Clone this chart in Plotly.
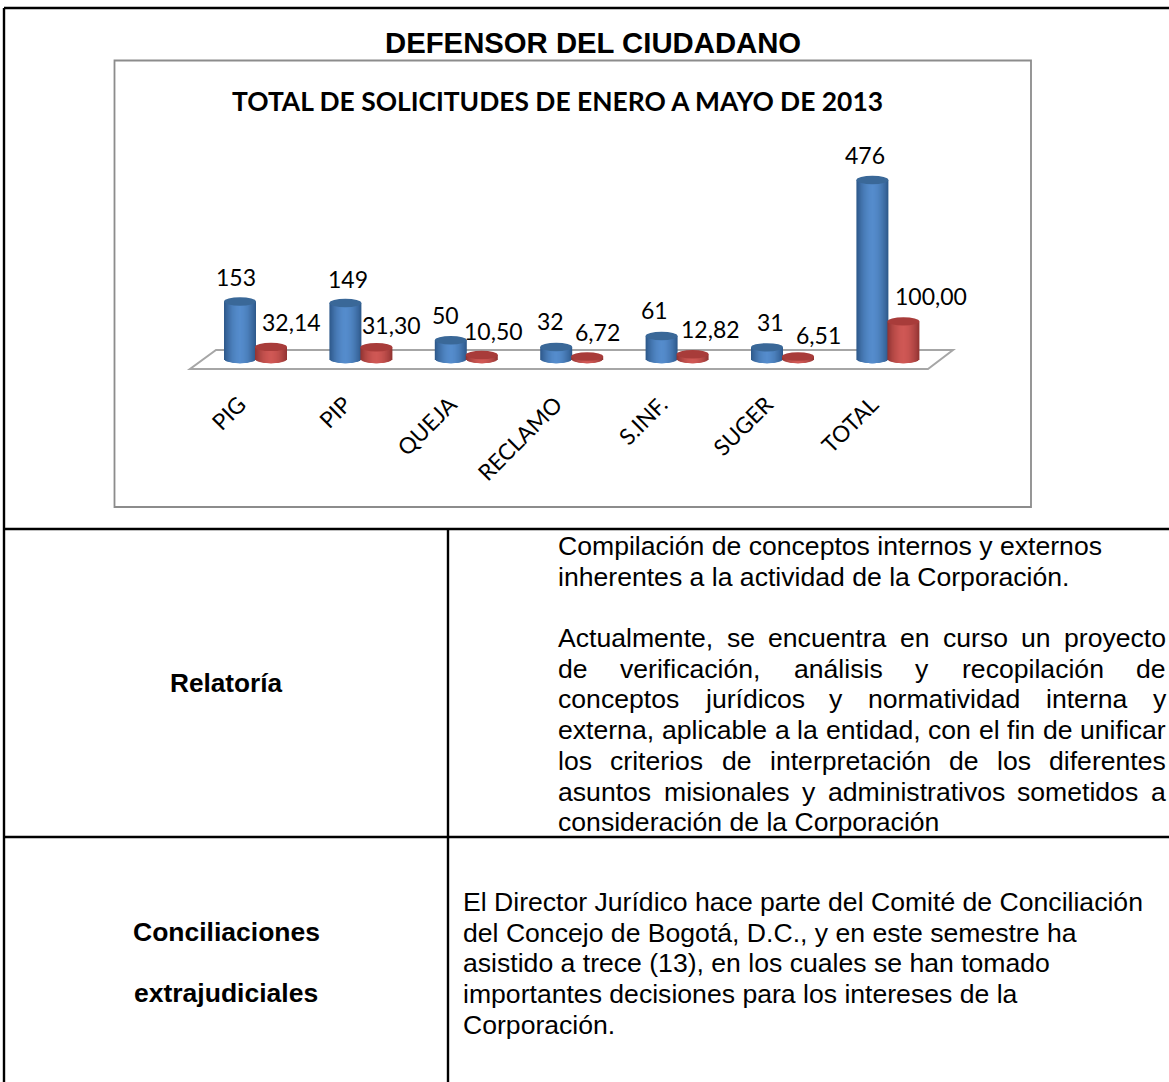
import math
import plotly.graph_objects as go

# ---------- data ----------
categories = ["PIG", "PIP", "QUEJA", "RECLAMO", "S.INF.", "SUGER", "TOTAL"]
cantidad = [153, 149, 50, 32, 61, 31, 476]
porcentaje = [32.14, 31.30, 10.50, 6.72, 12.82, 6.51, 100.00]
cantidad_labels = ["153", "149", "50", "32", "61", "31", "476"]
porcentaje_labels = ["32,14", "31,30", "10,50", "6,72", "12,82", "6,51", "100,00"]

page_title = "DEFENSOR DEL CIUDADANO"
chart_title = "TOTAL DE SOLICITUDES DE ENERO A MAYO DE 2013"

left_paragraph_1 = ["Compilación de conceptos internos y externos",
                    "inherentes a la actividad de la Corporación."]
justified_lines = ["Actualmente, se encuentra en curso un proyecto",
                   "de verificación, análisis y recopilación de",
                   "conceptos jurídicos y normatividad interna y",
                   "externa, aplicable a la entidad, con el fin de unificar",
                   "los criterios de interpretación de los diferentes",
                   "asuntos misionales y administrativos sometidos a"]
left_last = "consideración de la Corporación"
conciliacion_lines = ["El Director Jurídico hace parte del Comité de Conciliación",
                      "del Concejo de Bogotá, D.C., y en este semestre ha",
                      "asistido a trece (13), en los cuales se han tomado",
                      "importantes decisiones para los intereses de la",
                      "Corporación."]

# ---------- layout constants (pixels of the 1169x1082 page) ----------
W, H = 1169, 1082
PX_PER_UNIT = 0.376
BASE_PY = 359
AX_BOTTOM_PY = 372
AX_TOP_PY = 140
AX_LEFT_PX = 180
AX_RIGHT_PX = 960
CAT_PX = 105.4
CAT0_PX = 255.5          # pixel of the first category centre
BAR_PX = 32
OFFSET = 15.5 / CAT_PX
BAR_W = BAR_PX / CAT_PX
ELL_H = 4.2 / PX_PER_UNIT
N_LEVELS = 14

blue_shades = ((0x2F, 0x5A, 0x8C), (0x55, 0x8C, 0xCC))
red_shades = ((0x94, 0x35, 0x33), (0xCF, 0x58, 0x55))
blue_top = "#3A6898"
red_top = "#A83C3A"

# label displacement from the top of each bar (pixels)
blue_dx = [-4, 3, -5, -6, -7, 3, -7]
blue_dy = [24, 24, 25, 26, 26, 25, 25]
red_dx = [20, 15, 12, 10, 18, 20, 28]
red_dy = [25, 22, 24, 24, 25, 22, 25]


def px(x):
    return x / W


def py(y):
    return 1 - y / H


def fx(p):
    return (p - CAT0_PX) / CAT_PX


def fy(p):
    return (BASE_PY - p) / PX_PER_UNIT


fig = go.Figure()


def add_cylinder(values, off, shades):
    # nested bars, outermost (dark) first, so the shading has no seams
    for s in range(N_LEVELS):
        t = 1 - s / N_LEVELS                    # half-width fraction, 1 .. small
        light = math.sin((1 - t) * math.pi / 2) ** 0.9
        col = "rgb(%d,%d,%d)" % tuple(
            round(shades[0][c] + (shades[1][c] - shades[0][c]) * light) for c in range(3))
        tt = max(0.0, t - 0.5 / N_LEVELS)
        bases = [-ELL_H * math.sqrt(max(0, 1 - tt * tt)) for _ in values]
        heights = [v - b for v, b in zip(values, bases)]
        fig.add_trace(go.Bar(
            x=[i + off for i in range(len(values))],
            y=heights, base=bases,
            width=BAR_W * t,
            marker=dict(color=col, line=dict(width=0)),
            hoverinfo="skip", showlegend=False))


add_cylinder(cantidad, -OFFSET, blue_shades)
add_cylinder(porcentaje, OFFSET, red_shades)

shapes = []
# outer table rules
for x0, y0, x1, y1 in [(4, 8, W, 8), (4, 8, 4, H), (4, 529, W, 529),
                       (448, 529, 448, H), (4, 837, W, 837)]:
    shapes.append(dict(type="line", xref="paper", yref="paper", x0=px(x0), y0=py(y0),
                       x1=px(x1), y1=py(y1), line=dict(color="#000000", width=2.4), layer="below"))
# chart frame
shapes.append(dict(type="rect", xref="paper", yref="paper", x0=px(114.5), y0=py(60.5),
                   x1=px(1031), y1=py(507), line=dict(color="#8C8C8C", width=1.8),
                   fillcolor="rgba(0,0,0,0)", layer="below"))
# floor of the 3D plot, on the data axes
shapes.append(dict(
    type="path", xref="x", yref="y",
    path="M %f,%f L %f,%f L %f,%f L %f,%f Z" % (
        fx(190), fy(369), fx(928), fy(369), fx(953), fy(350), fx(216), fy(350)),
    line=dict(color="#A6A6A6", width=2), fillcolor="#FFFFFF", layer="below"))

# cylinder lids
half = BAR_W / 2
for vals, off, col in [(cantidad, -OFFSET, blue_top), (porcentaje, OFFSET, red_top)]:
    for i, v in enumerate(vals):
        shapes.append(dict(type="circle", xref="x", yref="y",
                           x0=i + off - half, x1=i + off + half,
                           y0=v - ELL_H, y1=v + ELL_H,
                           fillcolor=col, line=dict(width=0), layer="above"))

ann = []


def text(x, y, s, size, family="Liberation Sans", bold=False, anchor="left"):
    ann.append(dict(xref="paper", yref="paper", x=px(x), y=py(y),
                    text="<b>%s</b>" % s if bold else s, showarrow=False,
                    xanchor=anchor, yanchor="middle",
                    font=dict(family=family, size=size, color="#000000")))


# data labels, tied to the values
for i, (v, lab, dx, dy) in enumerate(zip(cantidad, cantidad_labels, blue_dx, blue_dy)):
    ann.append(dict(xref="x", yref="y", x=i - OFFSET, y=v, text=lab, showarrow=False,
                    xshift=dx, yshift=dy, xanchor="center", yanchor="middle",
                    font=dict(family="Lato", size=23, color="#000000")))
for i, (v, lab, dx, dy) in enumerate(zip(porcentaje, porcentaje_labels, red_dx, red_dy)):
    ann.append(dict(xref="x", yref="y", x=i + OFFSET, y=v, text=lab, showarrow=False,
                    xshift=dx, yshift=dy, xanchor="center", yanchor="middle",
                    font=dict(family="Lato", size=23, color="#000000")))

text(593, 43, page_title, 29.3, bold=True, anchor="center")
text(557.5, 101, chart_title, 26.4, family="Lato", bold=True, anchor="center")

FS = 26.6
LH = 30.7
text(226, 683, "Relatoría", 26.2, bold=True, anchor="center")
text(226, 932, "Conciliaciones", 26.5, bold=True, anchor="center")
text(226, 993, "extrajudiciales", 26.5, bold=True, anchor="center")

HELV = dict(a=556, b=556, c=500, d=556, e=556, f=278, g=556, h=556, i=222, j=222, k=500,
            l=222, m=833, n=556, o=556, p=556, q=556, r=333, s=500, t=278, u=556, v=500,
            w=722, x=500, y=500, z=500, A=667)
HELV.update({",": 278, ".": 278, "á": 556, "é": 556, "í": 278, "ó": 556, "ú": 556})


def width(word):
    return sum(HELV.get(c, 556) for c in word) * FS / 1000


TX0, TX1 = 556, 1164
yy = 546
for line in left_paragraph_1:
    text(TX0, yy, line, FS)
    yy += LH
yy = 638
for line in justified_lines:
    words = line.split(" ")
    gap = (TX1 - TX0 - sum(width(w) for w in words)) / (len(words) - 1)
    x = TX0
    for w in words:
        text(x, yy, w, FS)
        x += width(w) + gap
    yy += LH
text(TX0, 822, left_last, FS)
yy = 902
for line in conciliacion_lines:
    text(461, yy, line, FS)
    yy += LH

fig.update_layout(
    width=W, height=H, margin=dict(l=0, r=0, t=0, b=0),
    paper_bgcolor="#FFFFFF", plot_bgcolor="rgba(0,0,0,0)",
    barmode="overlay", showlegend=False, shapes=shapes, annotations=ann,
    xaxis=dict(domain=[px(AX_LEFT_PX), px(AX_RIGHT_PX)], range=[fx(AX_LEFT_PX), fx(AX_RIGHT_PX)],
               tickmode="array", tickvals=list(range(len(categories))), ticktext=categories,
               tickangle=-45, ticks="", showgrid=False, zeroline=False, showline=False,
               ticklabelstandoff=14, ticklabelshift=-16,
               tickfont=dict(family="Lato", size=22.5, color="#000000")),
    yaxis=dict(domain=[py(AX_BOTTOM_PY), py(AX_TOP_PY)],
               range=[fy(AX_BOTTOM_PY), fy(AX_TOP_PY)],
               visible=False),
)

fig.write_html("out.html", config=dict(displayModeBar=False),
               post_script="document.body.style.margin='0';document.documentElement.style.overflow='hidden';")
